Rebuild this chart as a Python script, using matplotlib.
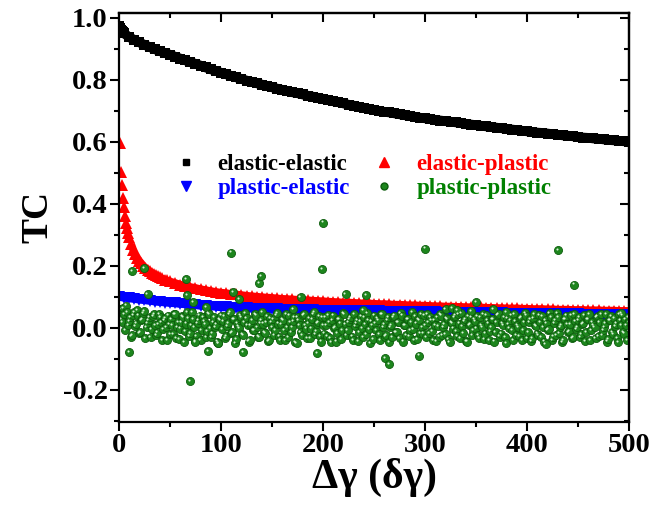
import numpy as np
import matplotlib
matplotlib.use("Agg")
import matplotlib.pyplot as plt
from matplotlib.lines import Line2D
from matplotlib.ticker import MultipleLocator
import matplotlib.transforms as mtransforms

plt.rcParams['font.family'] = ['Liberation Serif', 'DejaVu Serif']
plt.rcParams['font.weight'] = 'bold'

# ---------------- data ----------------
ee_x = [0, 1, 2, 3, 4] + list(range(5, 501, 5))
ee_y = [0.975, 0.968, 0.962, 0.958, 0.954,
        0.950, 0.938, 0.929, 0.921, 0.913, 0.906, 0.899, 0.893, 0.887, 0.881,
        0.875, 0.869, 0.863, 0.857, 0.852, 0.846, 0.840, 0.834, 0.829, 0.823,
        0.818, 0.813, 0.808, 0.803, 0.798, 0.794, 0.789, 0.785, 0.780, 0.776,
        0.772, 0.768, 0.764, 0.760, 0.757, 0.753, 0.749, 0.746, 0.742, 0.739,
        0.735, 0.731, 0.728, 0.724, 0.720, 0.717, 0.713, 0.710, 0.706, 0.703,
        0.700, 0.697, 0.695, 0.692, 0.689, 0.686, 0.684, 0.681, 0.678, 0.676,
        0.674, 0.671, 0.669, 0.667, 0.665, 0.663, 0.661, 0.658, 0.656, 0.654,
        0.652, 0.650, 0.648, 0.646, 0.644, 0.642, 0.640, 0.638, 0.636, 0.634,
        0.632, 0.630, 0.629, 0.627, 0.625, 0.623, 0.621, 0.620, 0.618, 0.616,
        0.614, 0.613, 0.611, 0.610, 0.608, 0.606, 0.605, 0.603, 0.602, 0.600]

ep_x = [1, 2, 3, 4, 5, 6, 7, 8, 9, 10, 12, 14, 16, 18, 20, 22, 24, 26, 28,
        30, 32, 34, 36, 38, 40, 42, 45, 47] + list(range(50, 501, 5))
ep_y = [0.597, 0.504, 0.461, 0.419, 0.390, 0.362, 0.340, 0.322, 0.306, 0.292,
        0.270, 0.252, 0.238, 0.226, 0.216, 0.208, 0.200, 0.194, 0.188, 0.183,
        0.178, 0.174, 0.170, 0.166, 0.163, 0.160, 0.156, 0.153,
        0.150, 0.145, 0.140, 0.136, 0.132, 0.129, 0.125, 0.122, 0.119, 0.116,
        0.114, 0.112, 0.110, 0.108, 0.106, 0.104, 0.102, 0.101, 0.099, 0.098,
        0.097, 0.095, 0.094, 0.093, 0.092, 0.091, 0.090, 0.089, 0.088, 0.087,
        0.086, 0.085, 0.084, 0.083, 0.082, 0.082, 0.081, 0.080, 0.079, 0.079,
        0.078, 0.077, 0.077, 0.076, 0.075, 0.075, 0.074, 0.073, 0.073, 0.072,
        0.072, 0.071, 0.070, 0.070, 0.069, 0.069, 0.068, 0.068, 0.067, 0.067,
        0.066, 0.066, 0.065, 0.065, 0.064, 0.064, 0.063, 0.063, 0.063, 0.062,
        0.062, 0.061, 0.061, 0.061, 0.060, 0.060, 0.059, 0.059, 0.059, 0.058,
        0.058, 0.058, 0.057, 0.057, 0.057, 0.056, 0.056, 0.056, 0.055, 0.055,
        0.055]

pe_x = list(range(0, 501, 5))
pe_y = [0.100, 0.097, 0.095, 0.093, 0.091, 0.089, 0.087, 0.085, 0.083, 0.082,
        0.080, 0.079, 0.077, 0.076, 0.074, 0.073, 0.071, 0.070, 0.069, 0.068,
        0.066, 0.066, 0.065, 0.064, 0.064, 0.063, 0.062, 0.062, 0.061, 0.061,
        0.060, 0.060, 0.059, 0.059, 0.058, 0.058, 0.057, 0.057, 0.057, 0.056,
        0.056, 0.056, 0.055, 0.055, 0.055, 0.054, 0.054, 0.054, 0.053, 0.053,
        0.053, 0.053, 0.052, 0.052, 0.052, 0.051, 0.051, 0.051, 0.051, 0.050,
        0.050, 0.050, 0.050, 0.049, 0.049, 0.049, 0.049, 0.048, 0.048, 0.048,
        0.048, 0.048, 0.047, 0.047, 0.047, 0.047, 0.046, 0.046, 0.046, 0.046,
        0.046, 0.045, 0.045, 0.045, 0.045, 0.045, 0.044, 0.044, 0.044, 0.044,
        0.044, 0.043, 0.043, 0.043, 0.043, 0.043, 0.042, 0.042, 0.042, 0.042,
        0.042]

pp_x1 = list(range(1, 501, 2))
pp_y1 = [0.060, 0.018, 0.045, 0.072, 0.008, 0.035, -0.022, 0.050, 0.014, 0.040,
         -0.012, 0.030, 0.055, 0.002, 0.024, -0.030, 0.038, 0.010, -0.015, 0.046,
         0.020, -0.005, 0.032, -0.038, 0.012,
         0.028, -0.020, 0.044, 0.004, -0.035, 0.018, 0.036, -0.010, 0.052, -0.026,
         0.008, 0.030, -0.042, 0.015, 0.040, -0.006, 0.022, -0.030, 0.047, 0.000,
         -0.018, 0.034, 0.011, -0.048, 0.026,
         -0.004, 0.038, -0.025, 0.016, 0.050, -0.012, 0.028, -0.036, 0.006, 0.042,
         -0.020, 0.020, 0.033, -0.044, 0.010, -0.008, 0.045, 0.002, -0.030, 0.024,
         0.014, -0.016, 0.037, -0.040, 0.018,
         0.030, -0.006, 0.048, -0.028, 0.012, 0.026, -0.038, 0.004, 0.040, -0.014,
         0.022, -0.046, 0.034, 0.008, -0.022, 0.044, -0.002, 0.016, -0.034, 0.028,
         0.050, -0.010, 0.020, -0.026, 0.036,
         -0.018, 0.010, 0.042, -0.032, 0.024, 0.000, -0.044, 0.030, 0.014, -0.008,
         0.046, -0.024, 0.018, 0.034, -0.040, 0.006, 0.026, -0.014, 0.038, -0.030,
         0.012, 0.048, -0.004, 0.022, -0.036,
         0.016, 0.032, -0.020, 0.044, 0.002, -0.028, 0.024, -0.046, 0.010, 0.036,
         -0.012, 0.020, -0.034, 0.040, 0.008, -0.024, 0.028, -0.006, 0.050, -0.040,
         0.014, 0.030, -0.016, 0.004, 0.042,
         -0.030, 0.018, 0.036, -0.010, 0.026, -0.042, 0.006, 0.044, -0.022, 0.012,
         0.032, -0.036, 0.020, -0.002, 0.040, -0.026, 0.014, 0.048, -0.016, 0.028,
         -0.044, 0.008, 0.034, -0.008, 0.022,
         0.038, -0.032, 0.010, 0.046, -0.018, 0.024, -0.040, 0.004, 0.030, -0.012,
         0.042, -0.028, 0.016, 0.036, -0.048, 0.012, 0.026, -0.006, 0.044, -0.024,
         0.002, 0.032, -0.038, 0.018, 0.040,
         -0.014, 0.028, -0.034, 0.046, 0.006, -0.022, 0.020, 0.038, -0.044, 0.014,
         -0.004, 0.034, -0.028, 0.024, 0.048, -0.016, 0.008, -0.040, 0.030, 0.012,
         -0.010, 0.042, -0.030, 0.022, 0.002,
         0.036, -0.020, 0.016, -0.042, 0.028, 0.044, -0.008, 0.010, -0.032, 0.038,
         0.020, -0.024, 0.004, 0.046, -0.036, 0.026, -0.012, 0.032, 0.014, -0.046,
         0.024, 0.040, -0.018, 0.008, 0.034]

pp_x2 = list(range(2, 501, 2))
pp_y2 = [0.030, 0.065, -0.008, 0.052, 0.022, -0.028, 0.042, 0.006, 0.058, -0.016,
         0.026, 0.048, -0.034, 0.016, 0.036, -0.004, 0.044, -0.024, 0.012, 0.034,
         -0.040, 0.024, 0.004, 0.040, -0.020,
         0.010, 0.046, -0.032, 0.020, -0.002, 0.038, -0.046, 0.014, 0.032, -0.016,
         0.050, 0.004, -0.026, 0.024, -0.040, 0.036, 0.012, -0.010, 0.044, -0.030,
         0.018, 0.002, -0.044, 0.030, 0.040,
         0.022, -0.034, 0.006, 0.044, -0.016, 0.030, -0.048, 0.016, 0.000, 0.036,
         -0.024, 0.048, 0.010, -0.038, 0.026, -0.006, 0.040, -0.028, 0.014, 0.052,
         -0.012, 0.020, -0.042, 0.032, 0.004,
         -0.024, 0.040, 0.014, -0.040, 0.030, -0.008, 0.046, -0.030, 0.018, 0.002,
         0.036, -0.048, 0.024, -0.014, 0.042, 0.010, -0.032, 0.032, -0.002, 0.044,
         -0.020, 0.014, 0.038, -0.044, 0.008,
         0.034, -0.026, 0.020, -0.046, 0.040, 0.004, -0.016, 0.028, -0.036, 0.048,
         0.012, -0.006, 0.030, -0.028, 0.044, 0.016, -0.042, 0.022, 0.000, 0.036,
         -0.020, 0.026, -0.048, 0.010, 0.040,
         -0.008, 0.026, -0.038, 0.046, 0.012, -0.022, 0.034, 0.002, -0.030, 0.040,
         -0.014, 0.018, 0.048, -0.044, 0.008, 0.030, -0.026, 0.020, -0.004, 0.038,
         -0.036, 0.024, 0.044, -0.018, 0.010,
         0.044, -0.016, 0.024, -0.038, 0.010, 0.034, -0.028, 0.040, 0.002, -0.020,
         0.028, -0.046, 0.016, 0.036, -0.010, 0.046, -0.032, 0.006, 0.022, -0.042,
         0.038, 0.012, -0.024, 0.030, -0.002,
         -0.022, 0.034, 0.004, -0.036, 0.042, 0.014, -0.010, 0.028, -0.044, 0.020,
         0.046, -0.018, 0.008, -0.030, 0.032, 0.000, 0.040, -0.040, 0.022, 0.010,
         -0.026, 0.036, -0.006, 0.048, -0.034,
         0.020, -0.042, 0.032, 0.010, -0.018, 0.042, -0.030, 0.004, 0.026, -0.008,
         0.048, -0.038, 0.016, -0.024, 0.036, 0.002, -0.046, 0.028, 0.040, -0.014,
         0.012, -0.032, 0.044, -0.004, 0.024,
         -0.030, 0.012, 0.042, -0.014, 0.030, -0.040, 0.020, 0.002, 0.036, -0.026,
         0.046, -0.008, 0.016, -0.044, 0.024, 0.038, -0.020, 0.006, -0.034, 0.044,
         0.010, -0.012, 0.028, -0.038, 0.018]

pp_out_x = [10, 13, 25, 28, 66, 67, 70, 73, 75, 85, 87, 97, 110, 112, 118, 122,
            137, 139, 171, 178, 194, 199, 200, 222, 239, 242, 261, 265, 294, 300,
            320, 326, 331, 345, 350, 367, 379, 418, 430, 446, 492]
pp_out_y = [-0.078, 0.184, 0.193, 0.110, 0.158, 0.106, -0.171, 0.083, -0.045,
            0.068, -0.074, -0.049, 0.243, 0.115, 0.094, -0.077, 0.144, 0.168,
            0.062, 0.100, -0.080, 0.190, 0.340, 0.110, 0.058, 0.106, -0.096,
            -0.116, -0.089, 0.256, 0.060, 0.063, 0.058, 0.053, 0.084, 0.061,
            0.052, -0.051, 0.250, 0.140, 0.048]

labels = ['elastic-elastic', 'elastic-plastic', 'plastic-elastic', 'plastic-plastic']
colors = ['black', '#ff0000', '#0000ff', '#008000']

# ---------------- figure ----------------
fig = plt.figure(figsize=(6.5, 5.17), dpi=100)
ax = fig.add_axes([0.183, 0.184, 0.785, 0.791])

# dense symbol bands (thick line underneath fills gaps between symbols)
ax.plot(ee_x, ee_y, '-', lw=7.0, color='black', solid_capstyle='butt')
ax.plot(ee_x, ee_y, linestyle='none', marker='s', ms=7, color='black', mew=0)
ax.plot(ep_x[10:], ep_y[10:], '-', lw=5.5, color='#ff0000', solid_capstyle='butt')
ax.plot(ep_x, ep_y, linestyle='none', marker='^', ms=8.5, color='#ff0000', mew=0)
ax.plot(pe_x, pe_y, '-', lw=5.5, color='#0000ff', solid_capstyle='butt')
ax.plot(pe_x, pe_y, linestyle='none', marker='v', ms=8, color='#0000ff', mew=0)

gx = []
gy = []
for i in range(len(pp_x1)):
    gx += [pp_x1[i], pp_x2[i]]
    gy += [pp_y1[i], pp_y2[i]]
gx += list(pp_out_x)
gy += list(pp_out_y)
ax.plot(gx, gy, linestyle='none', marker='o', ms=5.8, mfc='#1d861d',
        mec='#0c5c0c', mew=0.6)
hl = mtransforms.offset_copy(ax.transData, fig=fig, x=-0.8, y=0.8, units='points')
ax.plot(gx, gy, linestyle='none', marker='o', ms=1.5, mfc='#d8f0d8',
        mec='none', transform=hl)

ax.set_xlim(0, 500)
ax.set_ylim(-0.303, 1.016)
ax.xaxis.set_major_locator(MultipleLocator(100))
ax.xaxis.set_minor_locator(MultipleLocator(50))
ax.yaxis.set_minor_locator(MultipleLocator(0.1))
ax.set_yticks([-0.2, 0.0, 0.2, 0.4, 0.6, 0.8, 1.0])
ax.set_yticklabels(['-0.2', '0.0', '0.2', '0.4', '0.6', '0.8', '1.0'])

for s in ax.spines.values():
    s.set_linewidth(1.6)

ax.tick_params(axis='both', which='major', direction='out', length=6.5, width=1.5,
               labelsize=20.5, pad=1.5)
ax.tick_params(axis='both', which='minor', direction='out', length=3.5, width=1.5)
axt = ax.secondary_xaxis('top')
axt.xaxis.set_major_locator(MultipleLocator(100))
axt.xaxis.set_minor_locator(MultipleLocator(50))
axt.tick_params(axis='x', which='major', direction='in', length=6.5, width=1.5, labeltop=False)
axt.tick_params(axis='x', which='minor', direction='in', length=3.5, width=1.5)
axr = ax.secondary_yaxis('right')
axr.yaxis.set_major_locator(MultipleLocator(0.2))
axr.yaxis.set_minor_locator(MultipleLocator(0.1))
axr.tick_params(axis='y', which='major', direction='in', length=6.5, width=1.5, labelright=False)
axr.tick_params(axis='y', which='minor', direction='in', length=3.5, width=1.5)
for a in (axt, axr):
    for s in a.spines.values():
        s.set_linewidth(1.6)

for lab in ax.get_xticklabels() + ax.get_yticklabels():
    lab.set_fontweight('bold')

ax.set_xlabel('Δγ (δγ)', fontsize=30, fontweight='bold', labelpad=0)
ax.set_ylabel('TC', fontsize=27, fontweight='bold', labelpad=5)

handles = [
    Line2D([], [], linestyle='none', marker='s', ms=5, color='black'),
    Line2D([], [], linestyle='none', marker='v', ms=7, color='#0000ff'),
    Line2D([], [], linestyle='none', marker='^', ms=7, color='#ff0000'),
    Line2D([], [], linestyle='none', marker='o', ms=5, mfc='#1d861d', mec='#0c5c0c'),
]
leg_labels = [labels[0], labels[2], labels[1], labels[3]]
leg_colors = [colors[0], colors[2], colors[1], colors[3]]
leg = ax.legend(handles, leg_labels, ncol=2, frameon=False, loc='center',
                bbox_to_anchor=(0.478, 0.600), handletextpad=0.9,
                columnspacing=1.0, labelspacing=0.12, handlelength=1.0,
                prop={'weight': 'bold', 'size': 16.5})
for t, c in zip(leg.get_texts(), leg_colors):
    t.set_color(c)

fig.savefig('out.png', dpi=100)
